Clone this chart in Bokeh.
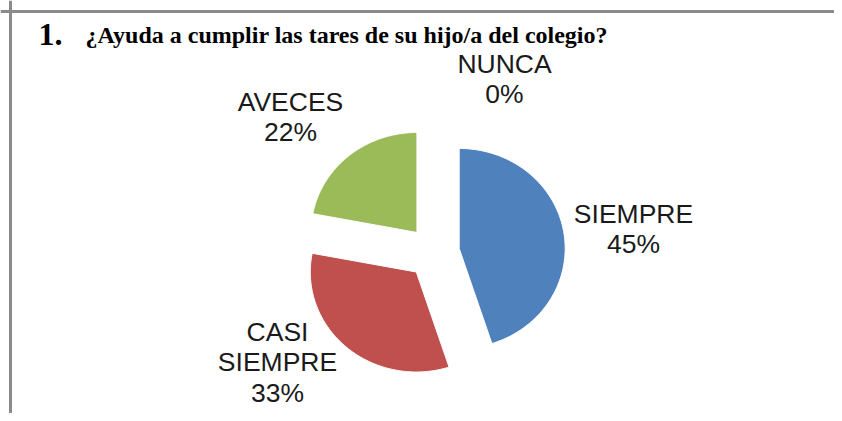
import numpy as np
from bokeh.plotting import figure
from bokeh.models import Range1d, Span
from bokeh.core.properties import value
from bokeh.embed import file_html
from bokeh.resources import INLINE

# ---- data ----
categories = ["SIEMPRE", "CASI\nSIEMPRE", "AVECES", "NUNCA"]
percentages = [45, 33, 22, 0]
colors = ["#4F81BD", "#C0504D", "#9BBB59", "#8064A2"]
title_number = "1."
title_text = "¿Ayuda a cumplir las tares de su hijo/a del colegio?"

# ---- layout (pixel-like data units, y grows downward) ----
W, H = 834, 413
cx, cy = 433.0, 252.0
rx, ry = 106.0, 100.0
explode = 26.0
label_pos = [(633, 198), (277, 316), (290, 86), (504, 48)]

p = figure(width=W, height=H, output_backend="svg", toolbar_location=None,
           x_range=Range1d(0, W), y_range=Range1d(H, 0),
           min_border=0, outline_line_color=None)
p.axis.visible = False
p.grid.visible = False
p.background_fill_color = "white"
p.border_fill_color = "white"

# frame lines (top and left, as in the reference)
p.add_layout(Span(location=11, dimension="width", line_color="#8a8a8a", line_width=3))
p.add_layout(Span(location=10, dimension="height", line_color="#8a8a8a", line_width=3))

# ---- pie slices (clockwise from 12 o'clock) ----
vals = np.array(percentages, dtype=float)
fracs = vals / vals.sum()
ends = np.cumsum(fracs) * 2 * np.pi
starts = ends - fracs * 2 * np.pi
xs, ys, cols = [], [], []
for s, e, c in zip(starts, ends, colors):
    if e - s <= 0:
        continue
    m = (s + e) / 2
    ox = cx + explode * np.sin(m)
    oy = cy - explode * np.cos(m)
    t = np.linspace(s, e, 120)
    px = np.concatenate([[ox], ox + rx * np.sin(t)])
    py = np.concatenate([[oy], oy - ry * np.cos(t)])
    xs.append(list(px))
    ys.append(list(py))
    cols.append(c)
p.patches(xs, ys, fill_color=cols, line_color="white", line_width=1)

# ---- labels ----
lab_text = [f"{c}\n{v}%" for c, v in zip(categories, percentages)]
p.text(x=[lp[0] for lp in label_pos], y=[lp[1] for lp in label_pos], text=lab_text,
       text_font=value("Liberation Sans"), text_font_size="26.5px",
       text_color="#1a1a1a", text_align="center", text_baseline="top",
       text_line_height=1.02)

# ---- title ----
p.text(x=[38], y=[34], text=[title_number], text_font=value("Liberation Serif"),
       text_font_style="bold", text_font_size="32px", text_color="black",
       text_baseline="alphabetic", text_align="left")
p.text(x=[85], y=[34], text=[title_text], text_font=value("Liberation Serif"),
       text_font_style="bold", text_font_size="24px", text_color="black",
       text_baseline="alphabetic", text_align="left")

open("out.html", "w").write(file_html(p, INLINE))
